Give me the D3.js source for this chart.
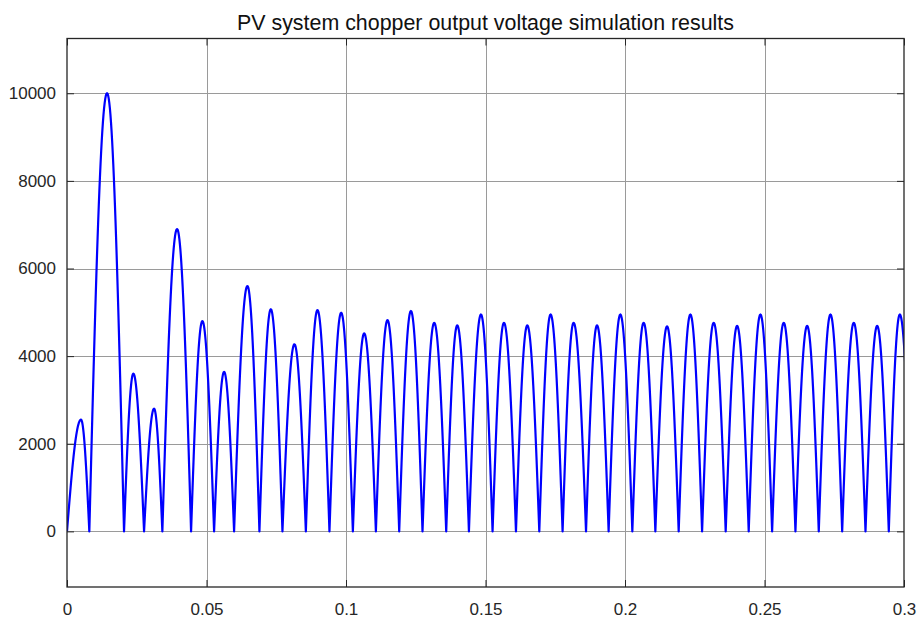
<!DOCTYPE html>
<html>
<head>
<meta charset="utf-8">
<script src="https://cdn.jsdelivr.net/npm/d3@7"></script>
<style>
  html, body { margin: 0; padding: 0; background: #fff; }
  svg { display: block; font-family: "Liberation Sans", Arial, Helvetica, sans-serif; }
</style>
</head>
<body>
<svg id="chart" width="919" height="619"></svg>
<script>
// Chopper output voltage: each half-cycle arch is described by its start/end zero
// crossing, the time of its crest and its crest voltage.
const archZeros = [
  0.00000, 0.00800, 0.02044, 0.02762, 0.03418, 0.04447, 0.05272, 0.05989,
  0.06897, 0.07722, 0.08561, 0.09407, 0.10246, 0.11071, 0.11907, 0.12742,
  0.13592, 0.14406, 0.15253, 0.16092, 0.16928, 0.17763, 0.18603, 0.19413,
  0.20263, 0.21088, 0.21924, 0.22763, 0.23609, 0.24434, 0.25273, 0.26109,
  0.26945, 0.27784, 0.28620, 0.29455, 0.30291
];
const peakTimes = [
  0.00502, 0.01435, 0.02378, 0.03120, 0.03945, 0.04852, 0.05631, 0.06466,
  0.07305, 0.08152, 0.08977, 0.09827, 0.10652, 0.11487, 0.12327, 0.13162,
  0.13987, 0.14837, 0.15662, 0.16497, 0.17333, 0.18158, 0.18997, 0.19833,
  0.20668, 0.21507, 0.22343, 0.23179, 0.24018, 0.24854, 0.25690, 0.26528,
  0.27364, 0.28200, 0.29038, 0.29850
];
const peakValues = [
  2550, 10000, 3600, 2800, 6900, 4800, 3640, 5600,
  5070, 4270, 5050, 4990, 4520, 4820, 5030, 4760,
  4700, 4950, 4760, 4700, 4950, 4760, 4700, 4950,
  4760, 4680, 4950, 4760, 4690, 4950, 4760, 4690,
  4950, 4760, 4690, 4950
];

const xTicks = [0, 0.05, 0.1, 0.15, 0.2, 0.25, 0.3];
const xTickLabels = ["0", "0.05", "0.1", "0.15", "0.2", "0.25", "0.3"];
const yTicks = [0, 2000, 4000, 6000, 8000, 10000];
const yTickLabels = ["0", "2000", "4000", "6000", "8000", "10000"];
const xDomain = [0, 0.3];
const yDomain = [-1270, 11250];
const titleText = "PV system chopper output voltage simulation results";

const svg = d3.select("#chart");
const plot = { left: 67, right: 904, top: 38.5, bottom: 587 };

const x = d3.scaleLinear().domain(xDomain).range([plot.left, plot.right]);
const y = d3.scaleLinear().domain(yDomain).range([plot.bottom, plot.top]);

svg.append("rect").attr("width", 919).attr("height", 619).attr("fill", "#fff");

// grid
const grid = svg.append("g").attr("stroke", "#9a9a9a").attr("stroke-width", 1);
grid.selectAll("line.gx").data(xTicks.slice(1, -1)).join("line")
  .attr("x1", d => Math.round(x(d)) + 0.5).attr("x2", d => Math.round(x(d)) + 0.5)
  .attr("y1", plot.top).attr("y2", plot.bottom);
grid.selectAll("line.gy").data(yTicks).join("line")
  .attr("y1", d => Math.round(y(d)) + 0.5).attr("y2", d => Math.round(y(d)) + 0.5)
  .attr("x1", plot.left).attr("x2", plot.right);

// waveform: every arch rises along a quarter sine to its crest and falls along another
const pts = [];
const steps = 30;
for (let i = 0; i < peakValues.length; i++) {
  const z0 = archZeros[i], z1 = archZeros[i + 1], tp = peakTimes[i], a = peakValues[i];
  for (let k = 0; k < steps; k++) {
    const t = z0 + (tp - z0) * k / steps;
    pts.push([t, a * Math.sin(Math.PI / 2 * (t - z0) / (tp - z0))]);
  }
  for (let k = 0; k < steps; k++) {
    const t = tp + (z1 - tp) * k / steps;
    pts.push([t, a * Math.cos(Math.PI / 2 * (t - tp) / (z1 - tp))]);
  }
}
pts.push([archZeros[archZeros.length - 1], 0]);

svg.append("clipPath").attr("id", "plotClip").append("rect")
  .attr("x", plot.left).attr("y", plot.top)
  .attr("width", plot.right - plot.left).attr("height", plot.bottom - plot.top);

const line = d3.line().x(d => x(d[0])).y(d => y(d[1]));
svg.append("path")
  .datum(pts)
  .attr("clip-path", "url(#plotClip)")
  .attr("fill", "none")
  .attr("stroke", "#0000ff")
  .attr("stroke-width", 2.2)
  .attr("stroke-linejoin", "round")
  .attr("d", line);

// axes box with inward ticks
const axisColor = "#262626";
const tickLen = 7;
const axisBottom = d3.axisBottom(x).tickValues(xTicks).tickSize(-tickLen).tickSizeOuter(0)
  .tickFormat((d, i) => xTickLabels[i]).tickPadding(16);
const axisTop = d3.axisTop(x).tickValues(xTicks).tickSize(-tickLen).tickSizeOuter(0).tickFormat("");
const axisLeft = d3.axisLeft(y).tickValues(yTicks).tickSize(-tickLen).tickSizeOuter(0)
  .tickFormat((d, i) => yTickLabels[i]).tickPadding(11);
const axisRight = d3.axisRight(y).tickValues(yTicks).tickSize(-tickLen).tickSizeOuter(0).tickFormat("");

function styleAxis(g) {
  g.select(".domain").remove();
  g.selectAll(".tick line").attr("stroke", axisColor).attr("stroke-width", 1);
  g.selectAll(".tick text").attr("fill", "#262626")
    .style("font-family", "'Liberation Sans', Arial, sans-serif").style("font-size", "17px");
}
svg.append("g").attr("transform", `translate(0,${plot.bottom})`).call(axisBottom).call(styleAxis);
svg.append("g").attr("transform", `translate(0,${plot.top})`).call(axisTop).call(styleAxis);
svg.append("g").attr("transform", `translate(${plot.left},0)`).call(axisLeft).call(styleAxis);
svg.append("g").attr("transform", `translate(${plot.right},0)`).call(axisRight).call(styleAxis);

svg.append("rect")
  .attr("x", plot.left).attr("y", plot.top)
  .attr("width", plot.right - plot.left).attr("height", plot.bottom - plot.top)
  .attr("fill", "none").attr("stroke", axisColor).attr("stroke-width", 1.3);

// title
svg.append("text")
  .attr("x", (plot.left + plot.right) / 2)
  .attr("y", 29.5)
  .attr("text-anchor", "middle")
  .attr("fill", "#111")
  .style("font-size", "21.4px")
  .text(titleText);
</script>
</body>
</html>
